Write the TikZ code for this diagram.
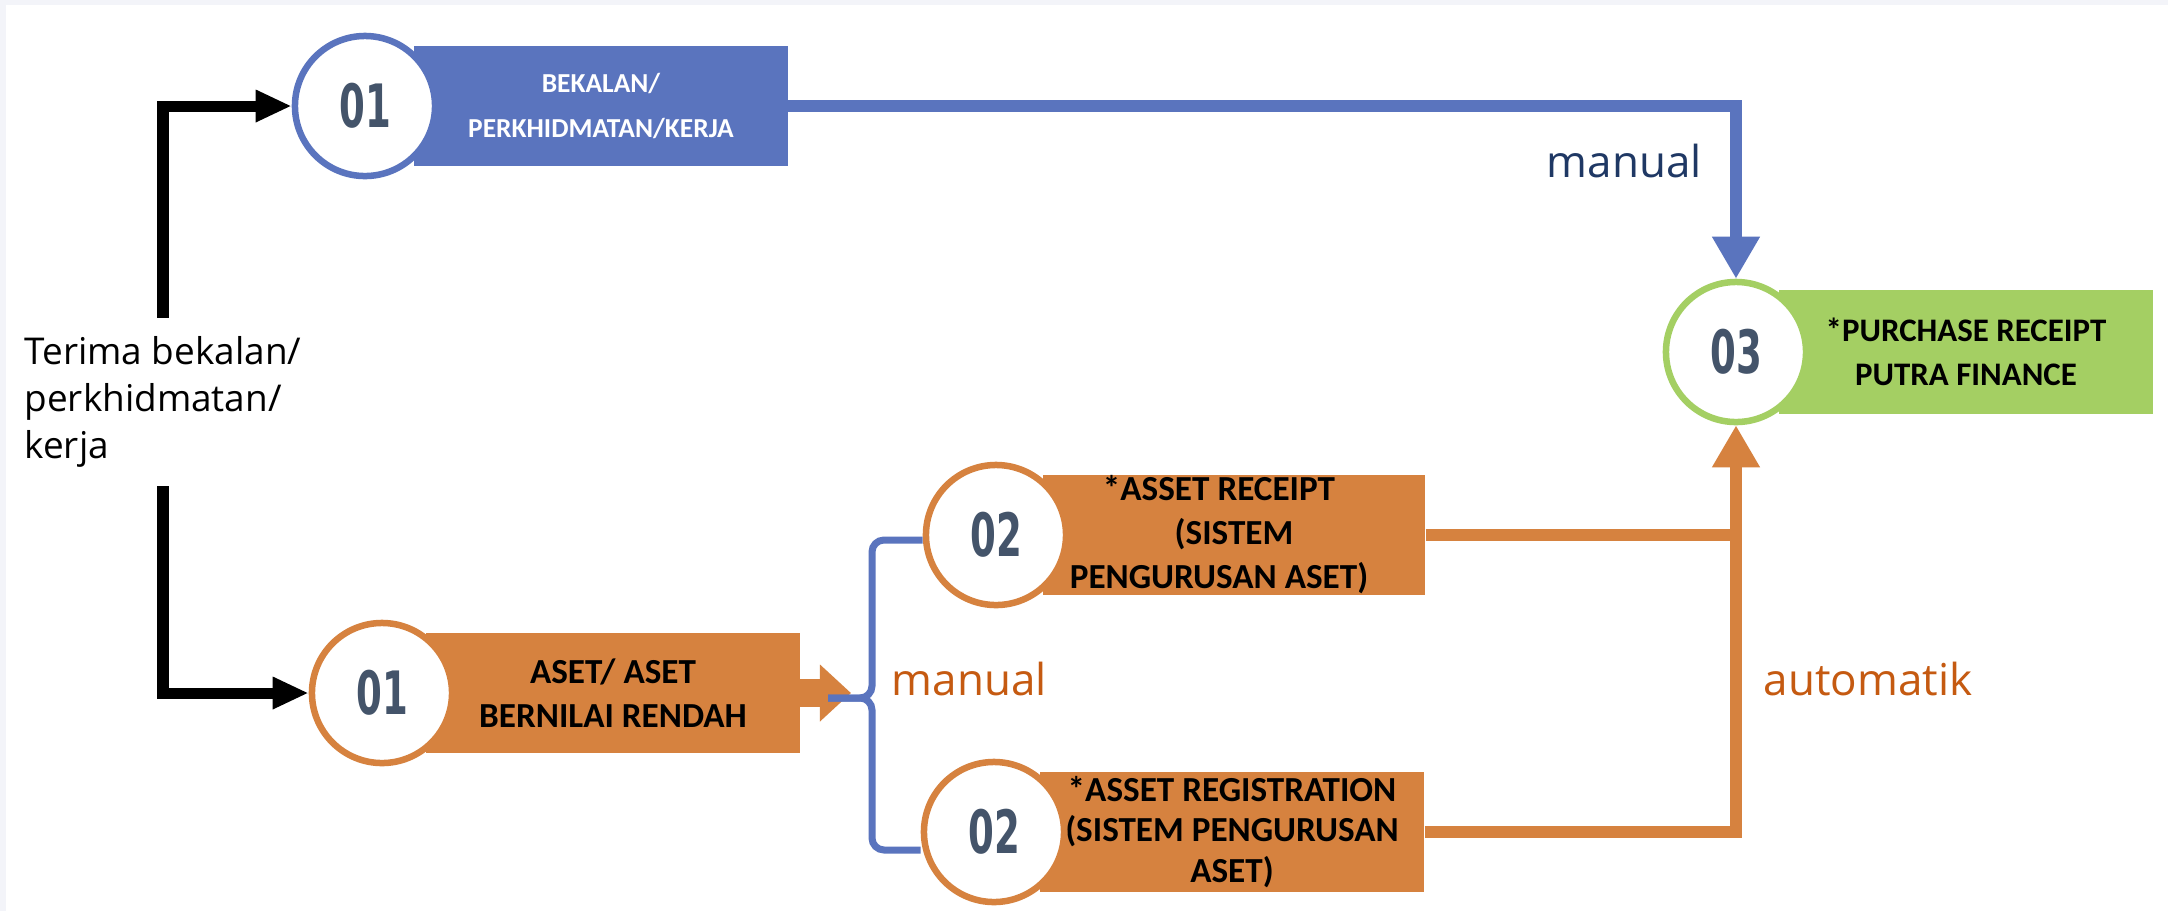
\documentclass[tikz,border=0pt]{standalone}
\usepackage{fontspec}
\setmainfont{Open Sans}
\newfontfamily\boxfont{Carlito}
\newfontfamily\numfont[FakeStretch=0.62]{DejaVu Sans}
\usetikzlibrary{arrows.meta}

\definecolor{itemblue}{HTML}{5A74BE}
\definecolor{itemorange}{HTML}{D6823F}
\definecolor{itemgreen}{HTML}{A4CF63}
\definecolor{numgrey}{HTML}{44546A}
\definecolor{navytext}{HTML}{1F3864}
\definecolor{rusttext}{HTML}{C55A11}
\definecolor{framegrey}{HTML}{F3F4F9}

\tikzset{
    numcircle/.style={circle, fill=white, draw=#1, line width=0.065cm, minimum size=1.40cm,
        inner sep=0pt, text=numgrey, font=\numfont\bfseries\fontsize{17}{17}\selectfont},
    itembox/.style={rectangle, fill=#1, minimum width=3.73cm, minimum height=1.20cm,
        inner sep=0pt, align=center, font=\boxfont\bfseries\fontsize{10}{12.5}\selectfont},
    flowline/.style={draw=#1, line width=0.12cm},
    flowtip/.style={-{Triangle[width=0.45cm,length=0.42cm]}},
    lbl/.style={inner sep=0pt, anchor=base west, font=\fontsize{12.5}{15}\selectfont}
}

\begin{document}
\begin{tikzpicture}[x=0.01cm, y=-0.01cm]
    \useasboundingbox (0,0) rectangle (2168,911);
    \fill[framegrey] (0,0) rectangle (2168,911);
    \fill[white] (6,5) rectangle (2168,911);

    % start text
    \node[align=left, inner sep=0pt, minimum height=1.67cm,
          font=\fontsize{10.5}{13.4}\selectfont] (terima) at (163,402)
          {Terima bekalan/\\perkhidmatan/\\kerja};

    % 01 bekalan / perkhidmatan / kerja
    \node[itembox=itemblue, text=white, font=\boxfont\bfseries\fontsize{7.8}{12.8}\selectfont]
          (bekalanbox) at (601,106) {BEKALAN/\\PERKHIDMATAN/KERJA};
    \node[numcircle=itemblue] (bekalan) at (365,106) {01};

    % 01 aset
    \node[itembox=itemorange] (asetbox) at (613,693) {ASET/ ASET\\BERNILAI RENDAH};
    \node[numcircle=itemorange] (aset) at (382,693) {01};

    % 02 asset receipt
    \node[itembox=itemorange, minimum width=3.82cm] (receiptbox) at (1234,535)
          {*ASSET RECEIPT\hspace*{0.3cm}\\(SISTEM\hspace*{0.3cm}\\PENGURUSAN ASET)\hspace*{0.3cm}};
    \node[numcircle=itemorange] (receipt) at (996,535) {02};

    % 02 asset registration
    \node[itembox=itemorange, minimum width=3.84cm,
          font=\boxfont\bfseries\fontsize{10}{11.5}\selectfont] (registbox) at (1232,832)
          {*ASSET REGISTRATION\\(SISTEM PENGURUSAN\\ASET)};
    \node[numcircle=itemorange] (regist) at (994,832) {02};

    % 03 purchase receipt
    \node[itembox=itemgreen, minimum height=1.23cm,
          font=\boxfont\bfseries\fontsize{9.35}{12.5}\selectfont] (purchasebox) at (1966,352)
          {*PURCHASE RECEIPT\\PUTRA FINANCE};
    \node[numcircle=itemgreen] (purchase) at (1736,352) {03};

    % connectors
    \draw[line width=0.11cm, -{Triangle[width=0.30cm,length=0.36cm]}] (terima.north) |- (bekalan.west);
    \draw[line width=0.11cm, -{Triangle[width=0.30cm,length=0.36cm]}] (terima.south) |- (aset.west);

    \draw[flowline=itemblue, flowtip] (bekalanbox.east) -| (purchase.north);
    \draw[flowline=itemorange, flowtip] (registbox.east) -| (purchase.south);
    \draw[flowline=itemorange] (receiptbox.east) -- (receiptbox.east -| purchase.south);

    \coordinate (split) at (851,693);
    \draw[itemorange, line width=0.28cm, -{Triangle[width=0.55cm,length=0.31cm]}] (asetbox.east) -- (split);

    % brace
    \coordinate (bracetop) at ([yshift=-0.05cm]receipt.west);
    \coordinate (bracebot) at ([yshift=-0.18cm]regist.west);
    \coordinate (bracetip) at (828,698);
    \draw[itemblue, line width=0.07cm, rounded corners=0.12cm]
        (bracetop) -| (bracetip -| 872,0) -- (bracetip);
    \draw[itemblue, line width=0.07cm, rounded corners=0.12cm]
        (bracetip) -- (bracetip -| 872,0) |- (bracebot);

    % labels
    \node[lbl, text=navytext] (manualtop) at (1546,177) {manual};
    \node[lbl, text=rusttext] (manualbot) at (891,695) {manual};
    \node[lbl, text=rusttext] (automatik) at (1763,695) {automatik};
\end{tikzpicture}
\end{document}
